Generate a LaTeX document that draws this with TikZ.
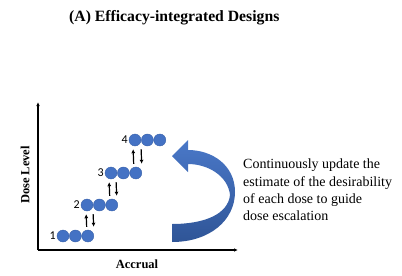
\documentclass[tikz,border=0pt]{standalone}
\usepackage{fontspec}
\setmainfont{Liberation Serif}
\newfontfamily\numfont{Carlito}
\usepackage{tikz}
\usetikzlibrary{arrows.meta,positioning}
\definecolor{dotblue}{HTML}{4472C4}
\definecolor{dotedge}{HTML}{3A62AA}
\definecolor{bendtop}{HTML}{4A78C8}
\definecolor{bendbot}{HTML}{2F5597}

\begin{document}
\begin{tikzpicture}[
  x=1pt, y=-1pt,
  dot/.style={circle, fill=dotblue, draw=dotedge, line width=0.4pt, minimum size=12pt, inner sep=0pt},
  num/.style={font=\numfont\fontsize{12}{12}\selectfont, inner sep=1pt},
  lab/.style={font=\bfseries\fontsize{12.5}{12.5}\selectfont, inner sep=0pt},
  ax/.style={line width=1.1pt, -{Latex[length=4pt,width=3.5pt]}},
  ud/.style={line width=1.2pt, -{Latex[length=4pt,width=4pt]}, shorten <=3pt, shorten >=3pt},
  loopband/.style={top color=bendtop, bottom color=bendbot}
]
\useasboundingbox (0,0) rectangle (402,276);
\node[font=\bfseries\fontsize{15.7}{15.7}\selectfont, anchor=west, inner sep=0pt] (title) at (69,18) {(A) Efficacy-integrated Designs};
% axes
\coordinate (o) at (38,250);
\coordinate (ytop) at (38,102);
\coordinate (xend) at (238,250);
\draw[ax] (o) -- (ytop);
\draw[ax] (o) -- (xend);
\node[lab, rotate=90] (ylab) at (25,175) {Dose Level};
\node[lab] (xlab) at (137,264) {Accrual};
% dose levels
\node[dot] (d1a) at (63,236) {};
\node[dot, right=0pt of d1a] (d1b) {};
\node[dot, right=0pt of d1b] (d1c) {};
\node[num, left=0pt of d1a] (n1) {1};
\node[dot] (d2a) at (87,205) {};
\node[dot, right=0pt of d2a] (d2b) {};
\node[dot, right=0pt of d2b] (d2c) {};
\node[num, left=0pt of d2a] (n2) {2};
\node[dot] (d3a) at (111,173) {};
\node[dot, right=0pt of d3a] (d3b) {};
\node[dot, right=0pt of d3b] (d3c) {};
\node[num, left=0pt of d3a] (n3) {3};
\node[dot] (d4a) at (135,140) {};
\node[dot, right=0pt of d4a] (d4b) {};
\node[dot, right=0pt of d4b] (d4c) {};
\node[num, left=0pt of d4a] (n4) {4};
% up / down between levels
\draw[ud] ([xshift=-1pt]d1c.north) -- ([xshift=-1pt]d2a.south);
\draw[ud] ([xshift=6pt]d2a.south) -- ([xshift=6pt]d1c.north);
\draw[ud] ([xshift=-2pt]d2c.north) -- ([xshift=-2pt]d3a.south);
\draw[ud] ([xshift=5pt]d3a.south) -- ([xshift=5pt]d2c.north);
\draw[ud] ([xshift=-2pt]d3c.north) -- ([xshift=-2pt]d4a.south);
\draw[ud] ([xshift=6pt]d4a.south) -- ([xshift=6pt]d3c.north);
% curved update arrow
\shade[loopband] (172,242) .. controls (210,242) and (235,220) .. (235,192)
  .. controls (235,165) and (212,150) .. (188,150) -- (188,140) -- (172,156) -- (188,172) -- (188,164)
  .. controls (208,164) and (228,176) .. (230,195)
  .. controls (228,214) and (205,224) .. (172,224) -- cycle;
\node[anchor=west, align=left, inner sep=0pt, font=\fontsize{14}{17.2}\selectfont] (note) at (243,190) {Continuously update the\\estimate of the desirability\\of each dose to guide\\dose escalation};
\end{tikzpicture}
\end{document}
